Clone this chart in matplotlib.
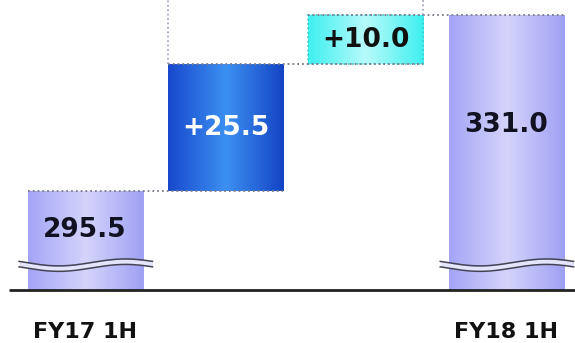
import numpy as np
import matplotlib
matplotlib.use("Agg")
import matplotlib.pyplot as plt
from matplotlib.colors import LinearSegmentedColormap

# data
steps = ["FY17 1H", "+25.5", "+10.0", "FY18 1H"]
values = [295.5, 25.5, 10.0, 331.0]
kinds = ["total", "delta", "delta", "total"]
tick_labels = ["FY17 1H", "", "", "FY18 1H"]
axis_base = 275.5  # broken axis starts here

colors = {
    "total": ["#a4a4f6", "#d4d4fc", "#a0a0f4"],
    "delta1": ["#1848cc", "#3c90f2", "#1444c4"],
    "delta2": ["#3ef0f0", "#b8fafa", "#3ef0f0"],
}
text_colors = ["#111122", "white", "#111111", "#111122"]

fig = plt.figure(figsize=(5.75, 3.43), dpi=100)
ax = fig.add_axes([0, 0, 1, 1])
ax.set_xlim(-0.606, 3.49)
ax.set_ylim(264.8, 333.97)
ax.axis("off")

width = 0.82
x = np.arange(len(values))

# bottoms / tops for waterfall
bottoms, tops = [], []
running = 0
for v, k in zip(values, kinds):
    if k == "total":
        bottoms.append(axis_base)
        tops.append(v)
        running = v
    else:
        bottoms.append(running)
        running += v
        tops.append(running)

grad = np.linspace(0, 1, 256).reshape(1, -1)
for i in range(len(values)):
    if kinds[i] == "total":
        cl = colors["total"]
    elif i == 1:
        cl = colors["delta1"]
    else:
        cl = colors["delta2"]
    cmap = LinearSegmentedColormap.from_list(f"g{i}", cl)
    bar = ax.bar(x[i], tops[i] - bottoms[i], bottom=bottoms[i], width=width,
                 color=cl[0], edgecolor="none", zorder=2)[0]
    im = ax.imshow(grad, cmap=cmap, aspect="auto", zorder=3,
                   extent=(x[i] - width / 2, x[i] + width / 2, bottoms[i], tops[i]))
    im.set_clip_path(bar)
    if i == 2:
        ax.add_patch(plt.Rectangle((x[i] - width / 2, bottoms[i]), width, tops[i] - bottoms[i],
                                   fill=False, edgecolor="#40c8c8", linestyle=":", lw=1.2, zorder=4))
    if kinds[i] == "total":
        label = f"{values[i]:.1f}"
        ty = bottoms[i] + 0.6 * (tops[i] - bottoms[i])
    else:
        label = f"+{values[i]:.1f}"
        ty = (tops[i] + bottoms[i]) / 2
    ax.text(x[i], ty, label, ha="center", va="center", fontsize=19, fontweight="bold",
            color=text_colors[i], zorder=6)

# connector dotted lines
for i in range(len(values) - 1):
    ax.plot([x[i] - width / 2, x[i + 1] + width / 2], [tops[i], tops[i]],
            ls=":", color="#7a7a8a", lw=1.3, zorder=5)
ax.plot([x[1] - width / 2] * 2, [tops[1], 340], ls=":", color="#9999bb", lw=1.2, zorder=5)
ax.plot([x[2] + width / 2] * 2, [tops[2], 340], ls=":", color="#9999bb", lw=1.2, zorder=5)

# axis break waves on total bars
for i in range(len(values)):
    if kinds[i] != "total":
        continue
    xs = np.linspace(x[i] - width / 2 - 0.06, x[i] + width / 2 + 0.07, 200)
    t = (xs - xs[0]) / (xs[-1] - xs[0])
    wave = 280.5 - 0.7 * np.sin(2 * np.pi * t - 0.3)
    ax.fill_between(xs, wave - 0.5, wave + 0.5, color="#e4e4fa", zorder=5, lw=0)
    ax.plot(xs, wave + 0.55, color="#444455", lw=1.1, zorder=6)
    ax.plot(xs, wave - 0.55, color="#444455", lw=1.1, zorder=6)

# baseline
ax.plot([-0.54, 3.49], [axis_base, axis_base], color="#222222", lw=2, zorder=7, solid_capstyle="butt")

for i, lab in enumerate(tick_labels):
    if lab:
        ax.text(x[i], 267.0, lab, ha="center", va="center", fontsize=16,
                fontweight="bold", color="#111111")

fig.savefig("out.png", dpi=100)
